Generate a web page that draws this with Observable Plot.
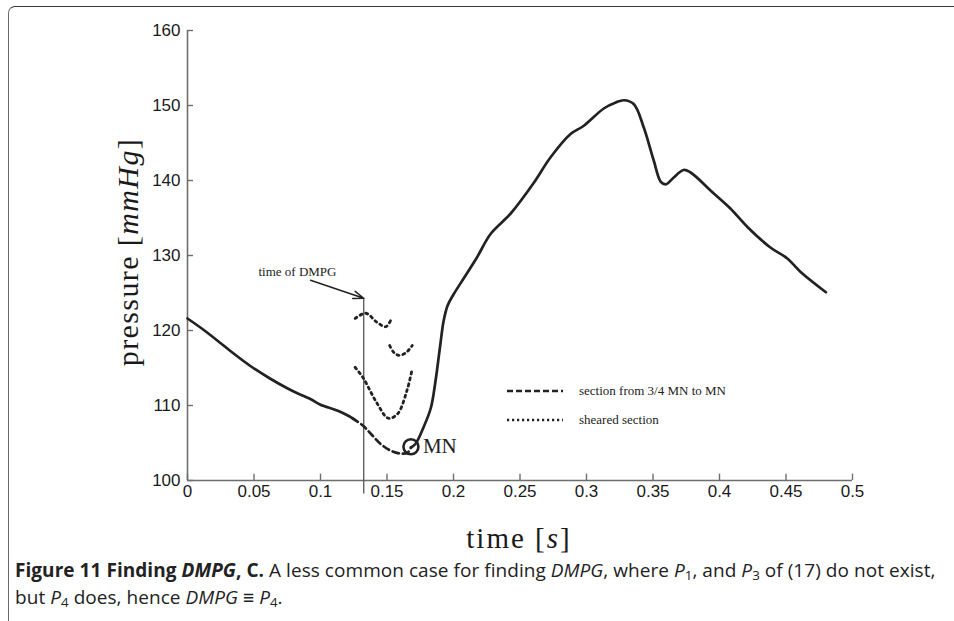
<!DOCTYPE html>
<html>
<head>
<meta charset="utf-8">
<script src="https://cdn.jsdelivr.net/npm/d3@7"></script>
<script src="https://cdn.jsdelivr.net/npm/@observablehq/plot@0.6"></script>
<style>
  html, body { margin: 0; padding: 0; background: #fff; }
  #wrap { position: relative; width: 954px; height: 621px; overflow: hidden; background: #fff; }
  #frame { position: absolute; left: 8px; top: 6px; width: 960px; height: 640px;
           border-top: 1.6px solid #3a3a3a; border-left: 1.6px solid #6a6a6a; border-top-left-radius: 7px; }
  #chart { position: absolute; left: 0; top: 0; }
  .serif { font-family: "Liberation Serif", "DejaVu Serif", serif; color: #1a1a1a; position: absolute; white-space: nowrap; line-height: 1; }
  #ylab { left: 128px; top: 252px; font-size: 30px; letter-spacing: 1.4px; transform: translate(-50%, -50%) rotate(-90deg); }
  #xlab { left: 519px; top: 538px; font-size: 29px; letter-spacing: 2px; transform: translate(-50%, -50%); }
  #legend { position: absolute; left: 505px; top: 376px; font-family: "Liberation Serif", serif; font-size: 13px; color: #222; }
  #legend .row { display: flex; align-items: center; height: 29px; }
  #legend svg { margin-right: 14px; }
  #caption { position: absolute; left: 15px; top: 557px; width: 940px; font-family: "Open Sans", "Noto Sans", sans-serif;
             font-size: 19px; line-height: 27px; color: #222; letter-spacing: 0.05px; white-space: nowrap; }
  #caption b { font-weight: 700; }
  sub { font-size: 0.7em; vertical-align: -0.25em; line-height: 0; }
</style>
</head>
<body>
<div id="wrap">
  <div id="frame"></div>
  <div id="chart"></div>
  <div id="ylab" class="serif">pressure [<i>mmHg</i>]</div>
  <div id="xlab" class="serif">time [<i>s</i>]</div>
  <div id="legend">
    <div class="row"><svg width="60" height="6"><line x1="2" y1="3" x2="58" y2="3" stroke="#222" stroke-width="2.6" stroke-dasharray="6,3"/></svg>section from 3/4 MN to MN</div>
    <div class="row"><svg width="60" height="6"><line x1="2" y1="3" x2="58" y2="3" stroke="#222" stroke-width="2.6" stroke-dasharray="2.2,2.8"/></svg>sheared section</div>
  </div>
  <div id="caption"><b>Figure 11 Finding <i>DMPG</i>, C.</b> A less common case for finding <i>DMPG</i>, where <i>P</i><sub>1</sub>, and <i>P</i><sub>3</sub> of (17) do not exist,<br>but <i>P</i><sub>4</sub> does, hence <i>DMPG</i> &#8801; <i>P</i><sub>4</sub>.</div>
</div>
<script>
// ---- data ----
const xTicks = [0, 0.05, 0.1, 0.15, 0.2, 0.25, 0.3, 0.35, 0.4, 0.45, 0.5];
const xTickLabels = ["0", "0.05", "0.1", "0.15", "0.2", "0.25", "0.3", "0.35", "0.4", "0.45", "0.5"];
const yTicks = [100, 110, 120, 130, 140, 150, 160];

// solid pressure before the 3/4 MN point
const solidPreT = [0, 0.012, 0.025, 0.032, 0.047, 0.062, 0.075, 0.083, 0.092, 0.1, 0.113, 0.124];
const solidPreP = [121.6, 120.1, 118.3, 117.3, 115.3, 113.6, 112.3, 111.6, 110.9, 110.1, 109.3, 108.3];

// dashed section from 3/4 MN to MN
const dashedT = [0.124, 0.132, 0.138, 0.145, 0.1526, 0.16, 0.1654, 0.168];
const dashedP = [108.3, 107.3, 106.2, 104.9, 104.0, 103.6, 103.7, 104.4];

// solid pressure after MN
const solidPostT = [0.168, 0.1715, 0.1775, 0.183, 0.1865, 0.19, 0.1925, 0.1955, 0.2, 0.2075, 0.2175, 0.228, 0.243, 0.26, 0.273, 0.288, 0.298, 0.313, 0.322, 0.328, 0.3355, 0.343, 0.3505, 0.356, 0.36, 0.365, 0.373, 0.378, 0.3955, 0.408, 0.421, 0.438, 0.451, 0.461, 0.48];
const solidPostP = [104.4, 104.9, 107.1, 109.7, 113.3, 118.0, 121.2, 123.3, 124.8, 126.9, 129.7, 132.9, 135.6, 139.6, 143.1, 146.2, 147.3, 149.6, 150.4, 150.7, 150.2, 147.1, 142.7, 139.8, 139.5, 140.3, 141.4, 141.1, 138.3, 136.3, 133.8, 131.1, 129.6, 127.8, 125.1];

// sheared (dotted) sections
const shear1T = [0.126, 0.134, 0.1425, 0.149, 0.1526];
const shear1P = [121.6, 122.3, 121.1, 120.5, 121.3];
const shear2T = [0.152, 0.155, 0.1587, 0.164, 0.169];
const shear2P = [118.0, 117.1, 116.7, 117.0, 118.0];
const shear3T = [0.126, 0.132, 0.1425, 0.151, 0.158, 0.165, 0.169];
const shear3P = [115.1, 113.7, 110.3, 108.3, 108.9, 112.0, 114.9];

// annotations
const mnT = 0.168, mnP = 104.5;
const dmpgT = 0.1325, dmpgLow = 98.2, dmpgHigh = 124.3;
const arrowFrom = {t: 0.0925, p: 126.7};
const dmpgLabel = {t: 0.0827, p: 127.8, text: "time of DMPG"};

const pts = (T, P) => T.map((t, i) => ({t, p: P[i]}));
const ink = "#222";
const axisInk = "#6e6e6e";
const dots = "2.2,3.8";

const chart = Plot.plot({
  width: 954,
  height: 540,
  marginLeft: 187,
  marginRight: 102,
  marginTop: 30,
  marginBottom: 60,
  x: {domain: [0, 0.5]},
  y: {domain: [100, 160]},
  style: {fontFamily: "'Liberation Sans', Arial, sans-serif", fontSize: "16px", color: "#1a1a1a", background: "transparent"},
  marks: [
    // axis lines
    Plot.ruleY([100], {x1: 0, x2: 0.5, stroke: axisInk, strokeWidth: 1.6}),
    Plot.ruleX([0], {y1: 100, y2: 160, stroke: axisInk, strokeWidth: 1.6}),
    // inward ticks
    Plot.ruleX(xTicks, {y1: 100, y2: 100.85, stroke: axisInk, strokeWidth: 1.4}),
    Plot.ruleY(yTicks, {x1: 0, x2: 0.0045, stroke: axisInk, strokeWidth: 1.4}),
    // tick labels
    Plot.axisX(xTicks, {tickSize: 0, tickPadding: 4, tickFormat: (d, i) => xTickLabels[i], label: null, fontSize: 17}),
    Plot.axisY(yTicks, {tickSize: 0, tickPadding: 7, label: null, fontSize: 17}),
    // DMPG vertical line
    Plot.ruleX([dmpgT], {y1: dmpgLow, y2: dmpgHigh, stroke: "#555", strokeWidth: 1.3}),
    Plot.arrow([0], {x1: arrowFrom.t, y1: arrowFrom.p, x2: dmpgT, y2: dmpgHigh, stroke: ink, strokeWidth: 1.5, headLength: 11, headAngle: 40}),
    Plot.text([dmpgLabel], {x: "t", y: "p", text: "text", fontFamily: "'Liberation Serif', serif", fontSize: 13, fill: ink}),
    // curves
    Plot.line(pts(solidPreT, solidPreP), {x: "t", y: "p", stroke: ink, strokeWidth: 2.7, curve: "catmull-rom"}),
    Plot.line(pts(dashedT, dashedP), {x: "t", y: "p", stroke: ink, strokeWidth: 2.7, strokeDasharray: "6.5,4", curve: "catmull-rom"}),
    Plot.line(pts(solidPostT, solidPostP), {x: "t", y: "p", stroke: ink, strokeWidth: 2.7, curve: "catmull-rom"}),
    Plot.line(pts(shear1T, shear1P), {x: "t", y: "p", stroke: ink, strokeWidth: 2.8, strokeDasharray: dots, curve: "catmull-rom"}),
    Plot.line(pts(shear2T, shear2P), {x: "t", y: "p", stroke: ink, strokeWidth: 2.8, strokeDasharray: dots, curve: "catmull-rom"}),
    Plot.line(pts(shear3T, shear3P), {x: "t", y: "p", stroke: ink, strokeWidth: 2.8, strokeDasharray: dots, curve: "catmull-rom"}),
    // MN marker
    Plot.dot([{t: mnT, p: mnP}], {x: "t", y: "p", r: 7.5, stroke: ink, strokeWidth: 2.6, fill: "none"}),
    Plot.text([{t: mnT, p: mnP}], {x: "t", y: "p", text: () => "MN", dx: 12, textAnchor: "start", fontFamily: "'Liberation Serif', serif", fontSize: 21, fill: ink})
  ]
});
document.getElementById("chart").appendChild(chart);
</script>
</body>
</html>
